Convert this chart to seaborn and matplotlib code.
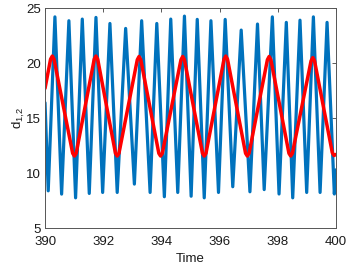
import matplotlib
matplotlib.use("Agg")
import matplotlib.pyplot as plt
import seaborn as sns

# blue trace: start, alternating troughs / peaks, end
blue_t = [390.00, 390.11, 390.34, 390.57, 390.82, 391.05, 391.28, 391.52, 391.75,
          391.98, 392.23, 392.48, 392.77, 393.07, 393.32, 393.61, 393.84, 394.10,
          394.32, 394.56, 394.79, 395.02, 395.23, 395.47, 395.70, 395.96, 396.19,
          396.45, 396.74, 397.04, 397.30, 397.53, 397.81, 398.04, 398.29, 398.51,
          398.76, 398.99, 399.22, 399.45, 399.69, 399.94, 400.00]
blue_d = [16.4, 8.39, 24.2, 8.09, 23.85, 7.75, 24.0, 8.15, 24.15,
          8.24, 23.6, 8.24, 23.15, 9.0, 23.85, 8.24, 23.6, 7.85,
          24.0, 8.24, 24.27, 7.9, 23.97, 7.75, 23.85, 8.24, 23.97,
          8.76, 23.0, 8.3, 23.55, 8.5, 24.2, 8.1, 23.7, 7.75,
          23.9, 8.24, 24.2, 8.24, 23.7, 8.1, 10.3]

# red trace: near-triangular wave, tips with small shoulders
red_t = [390.00, 390.19, 390.25, 390.31, 390.95, 391.01, 391.07,
         391.69, 391.75, 391.81, 392.42, 392.48, 392.54,
         393.17, 393.23, 393.29, 393.91, 393.97, 394.03,
         394.67, 394.73, 394.79, 395.41, 395.47, 395.53,
         396.15, 396.21, 396.27, 396.89, 396.95, 397.01,
         397.64, 397.70, 397.76, 398.38, 398.44, 398.50,
         399.14, 399.20, 399.26, 399.87, 399.93, 400.00]
red_d = [17.7, 20.35, 20.64, 20.35, 11.8, 11.55, 11.8,
         20.35, 20.64, 20.35, 11.8, 11.55, 11.8,
         20.3, 20.6, 20.3, 11.8, 11.55, 11.8,
         20.3, 20.6, 20.3, 11.8, 11.55, 11.8,
         20.35, 20.64, 20.35, 11.8, 11.55, 11.8,
         20.3, 20.6, 20.3, 11.8, 11.55, 11.8,
         20.2, 20.5, 20.2, 11.85, 11.6, 11.7]

x_ticks = [390, 392, 394, 396, 398, 400]
y_ticks = [5, 10, 15, 20, 25]

sns.set_theme(style="white")
plt.rcParams['font.family'] = ['Liberation Sans', 'DejaVu Sans']
plt.rcParams['mathtext.default'] = 'regular'

fig = plt.figure(figsize=(3.49, 2.69), dpi=100)
ax = fig.add_axes([0.129, 0.152, 0.834, 0.818])

sns.lineplot(x=blue_t, y=blue_d, color="#0072BD", linewidth=2.3,
             estimator=None, ax=ax)
sns.lineplot(x=red_t, y=red_d, color="#FF0000", linewidth=2.5,
             estimator=None, ax=ax)
for ln in ax.lines:
    ln.set_solid_joinstyle("round")
    ln.set_solid_capstyle("round")

ax.set_xlim(390, 400)
ax.set_ylim(5, 25)
ax.set_xticks(x_ticks)
ax.set_yticks(y_ticks)
ax.tick_params(axis="both", direction="in", length=3, width=0.6, color="#404040",
               labelcolor="#1a1a1a", labelsize=9.5, top=True, right=True)
ax.tick_params(axis="x", pad=6)
ax.tick_params(axis="y", pad=3)
for s in ax.spines.values():
    s.set_visible(True)
    s.set_color("#555555")
    s.set_linewidth(0.7)

ax.set_xlabel("Time", fontsize=9.5, color="#1a1a1a", labelpad=3)
ax.set_ylabel("d$_{1{,}2}$", fontsize=9.5, color="#1a1a1a", labelpad=-1)

fig.savefig("out.png", dpi=100)
